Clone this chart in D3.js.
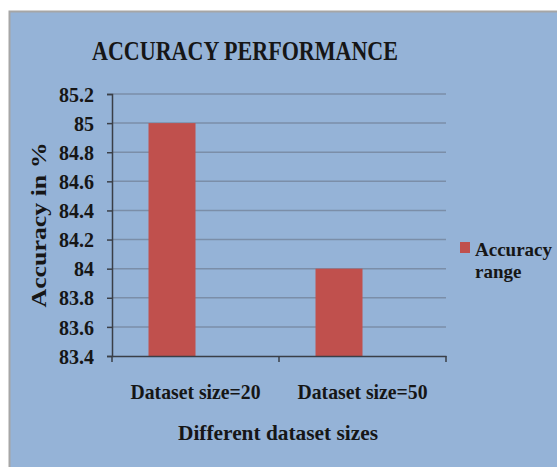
<!DOCTYPE html>
<html><head><meta charset="utf-8">
<script src="https://cdn.jsdelivr.net/npm/d3@7"></script>
<style>html,body{margin:0;padding:0;background:#fff;}svg{display:block;}text{font-family:'Liberation Serif','Times New Roman',serif !important;font-weight:bold;}</style>
</head><body>
<script>
const categories = ["Dataset size=20", "Dataset size=50"];
const seriesNames = ["Accuracy range", ""];
const accuracy = [85, 84];
const yTicks = [83.4, 83.6, 83.8, 84, 84.2, 84.4, 84.6, 84.8, 85, 85.2];
const title = "ACCURACY PERFORMANCE";
const xTitle = "Different dataset sizes";
const yTitle = "Accuracy in %";

const W = 557, H = 467;
const svg = d3.select("body").append("svg").attr("width", W).attr("height", H);
const font = "'Liberation Serif','Times New Roman',serif";
const ink = "#161616";

svg.append("rect").attr("x", 9.5).attr("y", 11.5).attr("width", W).attr("height", H)
  .attr("fill", "#95b3d7").attr("stroke", "#a6a6a6").attr("stroke-width", 2);

const L = 112, R = 446, T = 94, B = 356;
const y = d3.scaleLinear().domain([83.4, 85.2]).range([B, T]);
const x = d3.scaleBand().domain(categories).range([L, R]);
const x1 = d3.scaleBand().domain(seriesNames).range([0, x.bandwidth()]).paddingInner(0).paddingOuter(0.777);

// gridlines
svg.append("g").selectAll("line").data(yTicks.slice(1)).join("line")
  .attr("x1", L).attr("x2", R).attr("y1", d => y(d)).attr("y2", d => y(d))
  .attr("stroke", "#7b8ea8").attr("stroke-width", 1.5);

// bars
svg.append("g").selectAll("rect").data(accuracy).join("rect")
  .attr("x", (d, i) => x(categories[i]) + x1(seriesNames[0]))
  .attr("width", x1.bandwidth())
  .attr("y", d => y(d)).attr("height", d => B - y(d))
  .attr("fill", "#c0504d");

// y axis
const yAx = svg.append("g").attr("transform", `translate(${L},0)`)
  .call(d3.axisLeft(y).tickValues(yTicks).tickSize(5).tickPadding(13).tickFormat(d => String(+d.toFixed(1))));
yAx.attr("font-family", null).attr("font-size", null);
yAx.select(".domain").attr("stroke", "#3a3f47").attr("stroke-width", 1.5);
yAx.selectAll(".tick line").attr("stroke", "#3a3f47").attr("stroke-width", 1.5);
yAx.selectAll("text").style("font-size", "20px").attr("fill", ink).attr("dy", "0.36em");

// x axis
const xAx = svg.append("g").attr("transform", `translate(0,${B})`)
  .call(d3.axisBottom(x).tickSize(0).tickPadding(28));
xAx.attr("font-family", null).attr("font-size", null);
xAx.select(".domain").attr("stroke", "#3a3f47").attr("stroke-width", 1.5);
xAx.selectAll("text").style("font-size", "21px").attr("fill", ink)
  .attr("textLength", 130).attr("lengthAdjust", "spacingAndGlyphs");
const bounds = [L, ...categories.map(c => x(c) + x.bandwidth())];
svg.append("g").selectAll("line").data(bounds).join("line")
  .attr("x1", d => d).attr("x2", d => d).attr("y1", B).attr("y2", B + 6)
  .attr("stroke", "#3a3f47").attr("stroke-width", 1.5);

// titles
svg.append("text").attr("x", 245).attr("y", 60).attr("text-anchor", "middle")
  .style("font-size", "28px").attr("fill", ink)
  .attr("textLength", 306).attr("lengthAdjust", "spacingAndGlyphs").text(title);
svg.append("text").attr("x", 278).attr("y", 440).attr("text-anchor", "middle")
  .style("font-size", "22px").attr("fill", ink)
  .attr("textLength", 200).attr("lengthAdjust", "spacingAndGlyphs").text(xTitle);
svg.append("text").attr("transform", "translate(46,225) rotate(-90)").attr("text-anchor", "middle")
  .style("font-size", "22px").attr("fill", ink)
  .attr("textLength", 165).attr("lengthAdjust", "spacingAndGlyphs").text(yTitle);

// legend
const lg = svg.append("g").attr("transform", "translate(460,242)");
lg.append("rect").attr("width", 10).attr("height", 11).attr("fill", "#c0504d");
const lt = lg.append("text").style("font-size", "19px").attr("fill", ink);
lt.append("tspan").attr("x", 15).attr("y", 14).text("Accuracy");
lt.append("tspan").attr("x", 15).attr("y", 36).text("range");
</script>
</body></html>
